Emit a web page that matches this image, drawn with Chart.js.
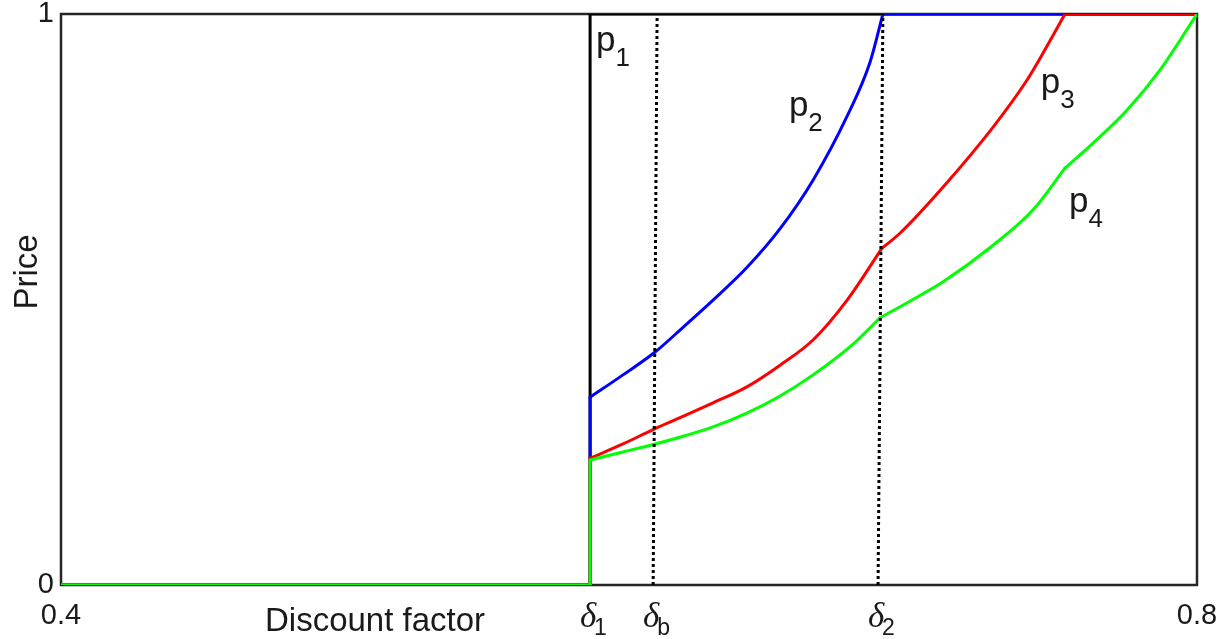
<!DOCTYPE html>
<html>
<head>
<meta charset="utf-8">
<title>Price vs discount factor</title>
<script src="https://cdn.jsdelivr.net/npm/chart.js@4.4.1/dist/chart.umd.min.js"></script>
<style>
    html, body { margin: 0; padding: 0; background: #fff; }
    #wrap { width: 1225px; height: 639px; position: relative; }
</style>
</head>
<body>
<div id="wrap"><canvas id="priceChart"></canvas></div>
<script>
// Values (x = discount factor, y = price)

// special discount factors on the x axis
const deltaValues = [0.5863, 0.6085, 0.6877];
const deltaSubs = ['1', 'b', '2'];
const xTickValues = [0.4, 0.8];
const yTickValues = [0, 1];

// p1 (black)
const p1X = [0.4, 0.5863, 0.5863, 0.8];
const p1Y = [0, 0, 1, 1];
const p1Breaks = [1, 2];

// p2 (blue)
const p2X = [0.4, 0.5863, 0.5863, 0.5979, 0.6092, 0.6194, 0.6296, 0.6415, 0.6532, 0.6648, 0.6768, 0.6849, 0.6894, 0.8];
const p2Y = [0, 0, 0.329, 0.368, 0.408, 0.453, 0.499, 0.556, 0.624, 0.709, 0.821, 0.916, 1, 1];
const p2Breaks = [1, 2, 12];

// p3 (red)
const p3X = [0.4, 0.5863, 0.5863, 0.5979, 0.6092, 0.6194, 0.6296, 0.6415, 0.6532, 0.6648, 0.6768, 0.6891, 0.6954, 0.7106, 0.7282, 0.7401, 0.7472, 0.7535, 0.8];
const p3Y = [0, 0, 0.222, 0.247, 0.274, 0.296, 0.319, 0.347, 0.385, 0.429, 0.499, 0.590, 0.616, 0.697, 0.802, 0.884, 0.944, 1, 1];
const p3Breaks = [1, 2, 11, 17];

// p4 (green)
const p4X = [0.4, 0.5863, 0.5863, 0.5979, 0.6092, 0.6194, 0.6296, 0.6415, 0.6532, 0.6648, 0.6789, 0.6884, 0.6989, 0.7106, 0.7282, 0.7423, 0.7535, 0.7634, 0.7754, 0.7870, 0.8];
const p4Y = [0, 0, 0.219, 0.233, 0.247, 0.261, 0.277, 0.301, 0.331, 0.368, 0.422, 0.468, 0.497, 0.531, 0.595, 0.657, 0.730, 0.774, 0.832, 0.902, 1];
const p4Breaks = [1, 2, 11, 16];

// dotted markers at delta_b and delta_2 (slightly leaning in the picture)
const dbX = [0.6085, 0.6099];
const d2X = [0.6877, 0.6894];
const dotY = [0, 1];

// curve labels: name, subscript, data x, data y (baseline)
const curveNames = ['p', 'p', 'p', 'p'];
const curveSubs = ['1', '2', '3', '4'];
const curveLabelX = [0.5884, 0.6563, 0.7450, 0.7549];
const curveLabelY = [0.935, 0.821, 0.862, 0.653];

const FONT = '"Liberation Sans", Arial, Helvetica, sans-serif';

function pts(xs, ys, from, to) {
    const out = [];
    for (let i = from; i <= to; i++) out.push({ x: xs[i], y: ys[i] });
    return out;
}

function lineSet(label, data, color, order, dash, smooth) {
    return {
        label: label,
        data: data,
        borderColor: color,
        backgroundColor: color,
        borderWidth: 3,
        borderDash: dash || [],
        borderCapStyle: dash ? 'butt' : 'round',
        borderJoinStyle: 'round',
        pointRadius: 0,
        showLine: true,
        cubicInterpolationMode: smooth ? 'monotone' : 'default',
        tension: 0,
        fill: false,
        order: order
    };
}

// one series cut into pieces at its kinks, each piece smoothed on its own
function seriesSets(label, xs, ys, breaks, color, order) {
    const cuts = [0].concat(breaks, [xs.length - 1]);
    const sets = [];
    for (let k = 0; k < cuts.length - 1; k++) {
        const piece = pts(xs, ys, cuts[k], cuts[k + 1]);
        sets.push(lineSet(label, piece, color, order, null, piece.length > 2));
    }
    return sets;
}

// frame, drawn under the curves
const framePlugin = {
    id: 'frame',
    beforeDatasetsDraw(chart) {
        const { ctx, chartArea: a } = chart;
        ctx.save();
        ctx.strokeStyle = '#262626';
        ctx.lineWidth = 2.5;
        ctx.strokeRect(a.left, a.top, a.right - a.left, a.bottom - a.top);
        ctx.restore();
    }
};

// texts with subscripts and the axis titles
const textPlugin = {
    id: 'texts',
    afterDraw(chart) {
        const { ctx, scales } = chart;
        const xs = scales.x, ys = scales.y;
        ctx.save();
        ctx.fillStyle = '#1a1a1a';
        ctx.textBaseline = 'alphabetic';

        // delta tick labels
        deltaValues.forEach((v, i) => {
            const px = xs.getPixelForValue(v);
            ctx.font = 'italic 35px "Liberation Serif", "DejaVu Serif", serif';
            ctx.textAlign = 'center';
            ctx.fillText('\u03b4', px - 2, 627);
            ctx.font = '23px ' + FONT;
            ctx.textAlign = 'left';
            ctx.fillText(deltaSubs[i], px + 4, 635);
        });

        // curve labels
        curveNames.forEach((n, i) => {
            const px = xs.getPixelForValue(curveLabelX[i]);
            const py = ys.getPixelForValue(curveLabelY[i]);
            ctx.textAlign = 'left';
            ctx.font = '35px ' + FONT;
            ctx.fillText(n, px, py);
            const w = ctx.measureText(n).width;
            ctx.font = '26px ' + FONT;
            ctx.fillText(curveSubs[i], px + w, py + 15);
        });

        // axis titles
        ctx.font = '33px ' + FONT;
        ctx.textAlign = 'left';
        ctx.fillText('Discount factor', 265, 631);

        ctx.translate(37, 272);
        ctx.rotate(-Math.PI / 2);
        ctx.textAlign = 'center';
        ctx.fillText('Price', 0, 0);
        ctx.restore();
    }
};

const datasets = [
    lineSet('delta_b', pts(dbX, dotY, 0, 1), '#000000', 0, [3, 3], false),
    lineSet('delta_2', pts(d2X, dotY, 0, 1), '#000000', 0, [3, 3], false)
].concat(
    seriesSets('p4', p4X, p4Y, p4Breaks, '#00ff00', 1),
    seriesSets('p3', p3X, p3Y, p3Breaks, '#ff0000', 2),
    seriesSets('p2', p2X, p2Y, p2Breaks, '#0000ff', 3),
    seriesSets('p1', p1X, p1Y, p1Breaks, '#000000', 4)
);

const chart = new Chart(document.getElementById('priceChart'), {
    type: 'scatter',
    data: { datasets: datasets },
    options: {
        responsive: true,
        maintainAspectRatio: false,
        animation: false,
        layout: {
            padding: { top: 14, right: 28, left: 0, bottom: 0 }
        },
        plugins: {
            legend: { display: false },
            tooltip: { enabled: false },
            title: { display: false }
        },
        scales: {
            x: {
                type: 'linear',
                min: 0.4,
                max: 0.8,
                afterBuildTicks: (scale) => {
                    scale.ticks = xTickValues.map(v => ({ value: v }));
                },
                afterFit: (scale) => {
                    scale.height = 54;
                    scale.paddingLeft = 0;
                    scale.paddingRight = 0;
                },
                grid: { display: false, drawTicks: false },
                border: { display: false },
                ticks: {
                    color: '#1a1a1a',
                    padding: 14,
                    maxRotation: 0,
                    autoSkip: false,
                    font: { family: FONT, size: 29 },
                    callback: (v) => v.toFixed(1)
                }
            },
            y: {
                type: 'linear',
                min: 0,
                max: 1,
                afterBuildTicks: (scale) => {
                    scale.ticks = yTickValues.map(v => ({ value: v }));
                },
                afterFit: (scale) => {
                    scale.width = 61;
                    scale.paddingTop = 0;
                    scale.paddingBottom = 0;
                },
                grid: { display: false, drawTicks: false },
                border: { display: false },
                ticks: {
                    color: '#1a1a1a',
                    padding: 7,
                    autoSkip: false,
                    font: { family: FONT, size: 29 },
                    callback: (v) => String(v)
                }
            }
        }
    },
    plugins: [framePlugin, textPlugin]
});
</script>
</body>
</html>
